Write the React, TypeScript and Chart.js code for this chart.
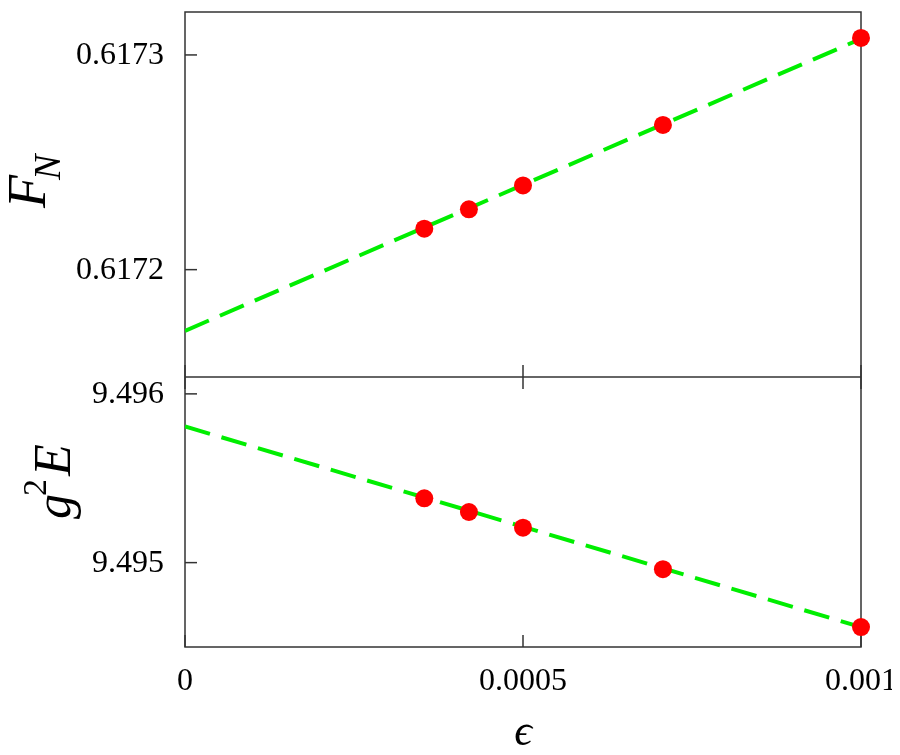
import React, { useEffect, useRef } from 'react';
import { Chart, registerables } from 'chart.js';

Chart.register(...registerables);

// ---- data ----
const epsilon = [0.000354, 0.00042, 0.0005, 0.000707, 0.001];
const fN = [0.6172191, 0.6172281, 0.6172392, 0.6172674, 0.6173079];
const g2E = [9.495381, 9.4953, 9.495207, 9.494961, 9.494618];
const fitEps = [0, 0.001];
const fNFit = [0.6171715, 0.6173075];
const g2EFit = [9.495807, 9.494618];

const xRange = [0, 0.001];
const fNRange = [0.61715, 0.61732];
const g2ERange = [9.4945, 9.4961];

const xTicks = [0, 0.0005, 0.001];
const xTickLabels = ['0', '0.0005', '0.001'];
const fNTicks = [0.6172, 0.6173];
const fNTickLabels = ['0.6172', '0.6173'];
const g2ETicks = [9.495, 9.496];
const g2ETickLabels = ['9.495', '9.496'];

const SERIF = '"Liberation Serif", "Times New Roman", "DejaVu Serif", serif';
const GREEN = '#00ee00';
const RED = '#ff0000';
const FRAME = '#333333';

const pts = (xs: number[], ys: number[]) => xs.map((x, i) => ({ x, y: ys[i] }));

const zeroPad = (s: any) => {
  s.paddingTop = 0;
  s.paddingBottom = 0;
  s.paddingLeft = 0;
  s.paddingRight = 0;
};

const framePlugin = {
  id: 'framePlugin',
  beforeDatasetsDraw(chart: any) {
    const { ctx, chartArea: a, scales } = chart;
    const yT = scales.yTop;
    const yB = scales.yBot;
    const x = scales.x;
    const L = 12;
    ctx.save();
    ctx.strokeStyle = FRAME;
    ctx.lineWidth = 1.5;
    ctx.strokeRect(a.left, a.top, a.right - a.left, a.bottom - a.top);
    const seg = (x1: number, y1: number, x2: number, y2: number) => {
      ctx.beginPath();
      ctx.moveTo(x1, y1);
      ctx.lineTo(x2, y2);
      ctx.stroke();
    };
    const div = yT.getPixelForValue(fNRange[0]);
    seg(a.left, div, a.right, div);
    for (const v of fNTicks) {
      const p = yT.getPixelForValue(v);
      seg(a.left, p, a.left + L, p);
    }
    for (const v of g2ETicks) {
      const p = yB.getPixelForValue(v);
      seg(a.left, p, a.left + L, p);
    }
    for (const v of xTicks) {
      const px = x.getPixelForValue(v);
      seg(px, a.bottom, px, a.bottom - L);
      seg(px, div - L, px, div + L);
    }

    // tick labels
    ctx.fillStyle = '#000';
    ctx.font = `32px ${SERIF}`;
    ctx.textAlign = 'right';
    ctx.textBaseline = 'middle';
    fNTicks.forEach((v, i) => ctx.fillText(fNTickLabels[i], a.left - 21, yT.getPixelForValue(v) + 1));
    g2ETicks.forEach((v, i) => ctx.fillText(g2ETickLabels[i], a.left - 21, yB.getPixelForValue(v) + 1));
    ctx.textAlign = 'center';
    xTicks.forEach((v, i) => ctx.fillText(xTickLabels[i], x.getPixelForValue(v), a.bottom + 35));
    ctx.restore();
  },
  afterDraw(chart: any) {
    const { ctx, chartArea: a } = chart;
    ctx.save();
    ctx.fillStyle = '#000';
    ctx.textAlign = 'left';
    ctx.textBaseline = 'alphabetic';

    // F_N
    ctx.save();
    ctx.translate(37, 200);
    ctx.rotate(-Math.PI / 2);
    ctx.font = `italic 54px ${SERIF}`;
    ctx.fillText('F', 0, 0);
    const wF = ctx.measureText('F').width;
    ctx.font = `italic 38px ${SERIF}`;
    ctx.fillText('N', wF - 5, 15);
    ctx.restore();

    // g^2 E
    ctx.save();
    ctx.translate(62, 511);
    ctx.rotate(-Math.PI / 2);
    ctx.font = `italic 50px ${SERIF}`;
    ctx.fillText('g', 0, 0);
    const wg = ctx.measureText('g').width;
    ctx.font = `34px ${SERIF}`;
    ctx.fillText('2', wg - 2, -24);
    const w2 = ctx.measureText('2').width;
    ctx.font = `italic 52px ${SERIF}`;
    ctx.fillText('E', wg + w2 + 1, 0);
    ctx.restore();

    // epsilon
    ctx.font = `italic 44px ${SERIF}`;
    ctx.textAlign = 'center';
    ctx.textBaseline = 'middle';
    ctx.fillText('\u03F5', (a.left + a.right) / 2, 725);
    ctx.restore();
  },
};

export default function App() {
  const ref = useRef<HTMLCanvasElement | null>(null);

  useEffect(() => {
    if (!ref.current) return;
    const common = {
      type: 'linear',
      grid: { display: false, drawTicks: false },
      border: { display: false },
      ticks: { display: false },
    };
    const chart = new Chart(ref.current, {
      type: 'scatter',
      data: {
        datasets: [
          {
            label: 'F_N',
            data: pts(epsilon, fN),
            yAxisID: 'yTop',
            pointRadius: 9,
            pointBackgroundColor: RED,
            pointBorderWidth: 0,
            showLine: false,
            clip: false,
          } as any,
          {
            label: 'g2E',
            data: pts(epsilon, g2E),
            yAxisID: 'yBot',
            pointRadius: 9,
            pointBackgroundColor: RED,
            pointBorderWidth: 0,
            showLine: false,
            clip: false,
          } as any,
          {
            label: 'F_N fit',
            data: pts(fitEps, fNFit),
            yAxisID: 'yTop',
            showLine: true,
            borderColor: GREEN,
            borderWidth: 4,
            borderDash: [26, 12],
            pointRadius: 0,
          } as any,
          {
            label: 'g2E fit',
            data: pts(fitEps, g2EFit),
            yAxisID: 'yBot',
            showLine: true,
            borderColor: GREEN,
            borderWidth: 4,
            borderDash: [26, 12],
            pointRadius: 0,
          } as any,
        ],
      },
      options: {
        responsive: false,
        animation: false,
        events: [],
        layout: { autoPadding: false, padding: { top: 4, right: 31, left: 0, bottom: 0 } },
        plugins: {
          legend: { display: false },
          tooltip: { enabled: false },
          title: { display: false },
        },
        scales: {
          x: {
            ...common,
            position: 'bottom',
            min: xRange[0],
            max: xRange[1],
            afterFit: (s: any) => {
              s.height = 100;
              zeroPad(s);
            },
          },
          yTop: {
            ...common,
            position: 'left',
            stack: 'panels',
            stackWeight: 365,
            weight: 2,
            min: fNRange[0],
            max: fNRange[1],
            afterFit: (s: any) => {
              s.width = 177;
              zeroPad(s);
            },
          },
          yBot: {
            ...common,
            position: 'left',
            stack: 'panels',
            stackWeight: 270,
            weight: 1,
            min: g2ERange[0],
            max: g2ERange[1],
            afterFit: (s: any) => {
              s.width = 177;
              zeroPad(s);
            },
          },
        } as any,
      },
      plugins: [framePlugin as any],
    });
    return () => chart.destroy();
  }, []);

  return (
    <div style={{ width: 884, height: 739 }}>
      <canvas ref={ref} width={884} height={739} style={{ display: 'block' }} />
    </div>
  );
}
